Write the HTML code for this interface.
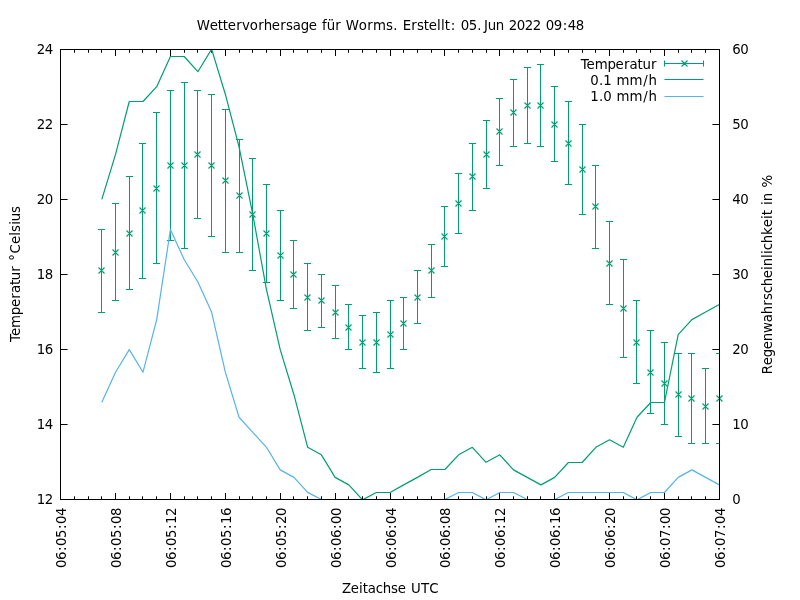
<!DOCTYPE html>
<html lang="de"><head><meta charset="utf-8"><title>Wettervorhersage für Worms</title>
<style>html,body{margin:0;padding:0;background:#fff;overflow:hidden}svg{display:block}</style></head><body>
<svg width="800" height="600" viewBox="0 0 800 600" font-family="DejaVu Sans, Liberation Sans, sans-serif" font-size="13.33" fill="#000">
<rect width="800" height="600" fill="#fff"/>
<path d="M60.50 500.00v-7.00M60.50 49.00v7.00M74.50 500.00v-3.75M74.50 49.00v3.75M88.50 500.00v-3.75M88.50 49.00v3.75M101.50 500.00v-3.75M101.50 49.00v3.75M115.50 500.00v-7.00M115.50 49.00v7.00M129.50 500.00v-3.75M129.50 49.00v3.75M142.50 500.00v-3.75M142.50 49.00v3.75M156.50 500.00v-3.75M156.50 49.00v3.75M170.50 500.00v-7.00M170.50 49.00v7.00M184.50 500.00v-3.75M184.50 49.00v3.75M197.50 500.00v-3.75M197.50 49.00v3.75M211.50 500.00v-3.75M211.50 49.00v3.75M225.50 500.00v-7.00M225.50 49.00v7.00M239.50 500.00v-3.75M239.50 49.00v3.75M252.50 500.00v-3.75M252.50 49.00v3.75M266.50 500.00v-3.75M266.50 49.00v3.75M280.50 500.00v-7.00M280.50 49.00v7.00M293.50 500.00v-3.75M293.50 49.00v3.75M307.50 500.00v-3.75M307.50 49.00v3.75M321.50 500.00v-3.75M321.50 49.00v3.75M335.50 500.00v-7.00M335.50 49.00v7.00M348.50 500.00v-3.75M348.50 49.00v3.75M362.50 500.00v-3.75M362.50 49.00v3.75M376.50 500.00v-3.75M376.50 49.00v3.75M390.50 500.00v-7.00M390.50 49.00v7.00M403.50 500.00v-3.75M403.50 49.00v3.75M417.50 500.00v-3.75M417.50 49.00v3.75M431.50 500.00v-3.75M431.50 49.00v3.75M444.50 500.00v-7.00M444.50 49.00v7.00M458.50 500.00v-3.75M458.50 49.00v3.75M472.50 500.00v-3.75M472.50 49.00v3.75M486.50 500.00v-3.75M486.50 49.00v3.75M499.50 500.00v-7.00M499.50 49.00v7.00M513.50 500.00v-3.75M513.50 49.00v3.75M527.50 500.00v-3.75M527.50 49.00v3.75M540.50 500.00v-3.75M540.50 49.00v3.75M554.50 500.00v-7.00M554.50 49.00v7.00M568.50 500.00v-3.75M568.50 49.00v3.75M582.50 500.00v-3.75M582.50 49.00v3.75M595.50 500.00v-3.75M595.50 49.00v3.75M609.50 500.00v-7.00M609.50 49.00v7.00M623.50 500.00v-3.75M623.50 49.00v3.75M636.50 500.00v-3.75M636.50 49.00v3.75M650.50 500.00v-3.75M650.50 49.00v3.75M664.50 500.00v-7.00M664.50 49.00v7.00M678.50 500.00v-3.75M678.50 49.00v3.75M691.50 500.00v-3.75M691.50 49.00v3.75M705.50 500.00v-3.75M705.50 49.00v3.75M719.50 500.00v-7.00M719.50 49.00v7.00M60.00 499.50h7.60M720.00 499.50h-7.60M60.00 424.50h7.60M720.00 424.50h-7.60M60.00 349.50h7.60M720.00 349.50h-7.60M60.00 274.50h7.60M720.00 274.50h-7.60M60.00 199.50h7.60M720.00 199.50h-7.60M60.00 124.50h7.60M720.00 124.50h-7.60M60.00 49.50h7.60M720.00 49.50h-7.60" stroke="#000" stroke-width="1" fill="none"/>
<text x="36.86 44.86" y="504.20">12</text>
<text x="732.26" y="504.20">0</text>
<text x="36.86 44.86" y="429.20">14</text>
<text x="732.26 740.26" y="429.20">10</text>
<text x="36.86 44.86" y="354.20">16</text>
<text x="732.26 740.26" y="354.20">20</text>
<text x="36.86 44.86" y="279.20">18</text>
<text x="732.26 740.26" y="279.20">30</text>
<text x="36.86 44.86" y="204.20">20</text>
<text x="732.26 740.26" y="204.20">40</text>
<text x="36.86 44.86" y="129.20">22</text>
<text x="732.26 740.26" y="129.20">50</text>
<text x="36.86 44.86" y="54.20">24</text>
<text x="732.26 740.26" y="54.20">60</text>
<text transform="translate(65.90 507.80) rotate(-90)" x="-60.24 -52.24 -43.25 -38.24 -30.24 -21.25 -16.24 -8.24" y="0">06:05:04</text>
<text transform="translate(120.90 507.80) rotate(-90)" x="-60.24 -52.24 -43.25 -38.24 -30.24 -21.25 -16.24 -8.24" y="0">06:05:08</text>
<text transform="translate(175.90 507.80) rotate(-90)" x="-60.24 -52.24 -43.25 -38.24 -30.24 -21.25 -16.24 -8.24" y="0">06:05:12</text>
<text transform="translate(230.90 507.80) rotate(-90)" x="-60.24 -52.24 -43.25 -38.24 -30.24 -21.25 -16.24 -8.24" y="0">06:05:16</text>
<text transform="translate(285.90 507.80) rotate(-90)" x="-60.24 -52.24 -43.25 -38.24 -30.24 -21.25 -16.24 -8.24" y="0">06:05:20</text>
<text transform="translate(340.90 507.80) rotate(-90)" x="-60.24 -52.24 -43.25 -38.24 -30.24 -21.25 -16.24 -8.24" y="0">06:06:00</text>
<text transform="translate(395.90 507.80) rotate(-90)" x="-60.24 -52.24 -43.25 -38.24 -30.24 -21.25 -16.24 -8.24" y="0">06:06:04</text>
<text transform="translate(449.90 507.80) rotate(-90)" x="-60.24 -52.24 -43.25 -38.24 -30.24 -21.25 -16.24 -8.24" y="0">06:06:08</text>
<text transform="translate(504.90 507.80) rotate(-90)" x="-60.24 -52.24 -43.25 -38.24 -30.24 -21.25 -16.24 -8.24" y="0">06:06:12</text>
<text transform="translate(559.90 507.80) rotate(-90)" x="-60.24 -52.24 -43.25 -38.24 -30.24 -21.25 -16.24 -8.24" y="0">06:06:16</text>
<text transform="translate(614.90 507.80) rotate(-90)" x="-60.24 -52.24 -43.25 -38.24 -30.24 -21.25 -16.24 -8.24" y="0">06:06:20</text>
<text transform="translate(669.90 507.80) rotate(-90)" x="-60.24 -52.24 -43.25 -38.24 -30.24 -21.25 -16.24 -8.24" y="0">06:07:00</text>
<text transform="translate(724.90 507.80) rotate(-90)" x="-60.24 -52.24 -43.25 -38.24 -30.24 -21.25 -16.24 -8.24" y="0">06:07:04</text>
<text x="196.86 209.85 217.84 222.84 227.85 236.21 242.01 249.87 258.21 263.73 271.85 280.21 285.98 292.87 300.72 308.85 317.33 322.10 326.73 335.21 341.33 345.86 358.87 367.21 372.96 385.98 393.33 398.33 402.74 411.21 416.98 423.84 428.85 437.10 441.10 444.84 450.70 456.33 460.71 468.71 477.33 483.98 487.73 495.73 504.33 508.71 516.71 524.71 532.71 541.33 545.71 553.71 562.70 567.71 575.71" y="29.70">Wettervorhersage für Worms. Erstellt: 05.Jun 2022 09:48</text>
<text x="341.88 350.85 359.10 362.84 367.87 375.79 382.73 390.98 397.85 406.33 411.07 420.88 429.30" y="592.90">Zeitachse UTC</text>
<text transform="translate(19.50 273.95) rotate(-90)" x="-68.07 -62.10 -53.99 -41.23 -33.10 -24.74 -19.08 -11.11 -6.22 2.26 8.38 13.17 20.35 29.90 38.15 42.03 49.15 52.78 61.03" y="0">Temperatur °Celsius</text>
<text transform="translate(772.00 274.10) rotate(-90)" x="-100.13 -91.10 -83.23 -75.10 -67.22 -58.95 -48.08 -40.22 -31.74 -25.97 -19.16 -12.22 -4.10 4.15 7.78 16.15 20.15 23.84 30.78 39.14 46.90 55.15 58.89 64.38 69.15 72.78 81.38 86.67" y="0">Regenwahrscheinlichkeit in %</text>
<text x="580.63 586.60 594.71 607.47 615.60 623.96 629.62 637.59 642.48 650.96" y="68.60">Temperatur</text>
<text x="590.36 598.98 603.36 611.98 616.61 629.61 643.35 648.38" y="84.60">0.1 mm/h</text>
<text x="590.36 598.98 603.36 611.98 616.61 629.61 643.35 648.38" y="100.80">1.0 mm/h</text>
<clipPath id="c"><rect x="60.00" y="49.00" width="660.00" height="451.00"/></clipPath>
<g clip-path="url(#c)" fill="none" stroke-width="1" stroke-linejoin="round" stroke-linecap="butt">
<path d="M101.50 229.50V312.50M97.90 229.50h7.20M97.90 312.50h7.20M115.50 203.50V300.50M111.90 203.50h7.20M111.90 300.50h7.20M129.50 176.50V289.50M125.90 176.50h7.20M125.90 289.50h7.20M142.50 143.50V278.50M138.90 143.50h7.20M138.90 278.50h7.20M156.50 112.50V263.50M152.90 112.50h7.20M152.90 263.50h7.20M170.50 90.50V240.50M166.90 90.50h7.20M166.90 240.50h7.20M184.50 82.50V248.50M180.90 82.50h7.20M180.90 248.50h7.20M197.50 90.50V218.50M193.90 90.50h7.20M193.90 218.50h7.20M211.50 94.50V236.50M207.90 94.50h7.20M207.90 236.50h7.20M225.50 109.50V252.50M221.90 109.50h7.20M221.90 252.50h7.20M239.50 139.50V252.50M235.90 139.50h7.20M235.90 252.50h7.20M252.50 158.50V270.50M248.90 158.50h7.20M248.90 270.50h7.20M266.50 184.50V282.50M262.90 184.50h7.20M262.90 282.50h7.20M280.50 210.50V300.50M276.90 210.50h7.20M276.90 300.50h7.20M293.50 240.50V308.50M289.90 240.50h7.20M289.90 308.50h7.20M307.50 263.50V330.50M303.90 263.50h7.20M303.90 330.50h7.20M321.50 274.50V327.50M317.90 274.50h7.20M317.90 327.50h7.20M335.50 285.50V338.50M331.90 285.50h7.20M331.90 338.50h7.20M348.50 304.50V349.50M344.90 304.50h7.20M344.90 349.50h7.20M362.50 315.50V368.50M358.90 315.50h7.20M358.90 368.50h7.20M376.50 312.50V372.50M372.90 312.50h7.20M372.90 372.50h7.20M390.50 300.50V368.50M386.90 300.50h7.20M386.90 368.50h7.20M403.50 297.50V349.50M399.90 297.50h7.20M399.90 349.50h7.20M417.50 270.50V323.50M413.90 270.50h7.20M413.90 323.50h7.20M431.50 244.50V297.50M427.90 244.50h7.20M427.90 297.50h7.20M444.50 206.50V266.50M440.90 206.50h7.20M440.90 266.50h7.20M458.50 173.50V233.50M454.90 173.50h7.20M454.90 233.50h7.20M472.50 143.50V210.50M468.90 143.50h7.20M468.90 210.50h7.20M486.50 120.50V188.50M482.90 120.50h7.20M482.90 188.50h7.20M499.50 98.50V165.50M495.90 98.50h7.20M495.90 165.50h7.20M513.50 79.50V146.50M509.90 79.50h7.20M509.90 146.50h7.20M527.50 67.50V143.50M523.90 67.50h7.20M523.90 143.50h7.20M540.50 64.50V146.50M536.90 64.50h7.20M536.90 146.50h7.20M554.50 86.50V161.50M550.90 86.50h7.20M550.90 161.50h7.20M568.50 101.50V184.50M564.90 101.50h7.20M564.90 184.50h7.20M582.50 124.50V214.50M578.90 124.50h7.20M578.90 214.50h7.20M595.50 165.50V248.50M591.90 165.50h7.20M591.90 248.50h7.20M609.50 221.50V304.50M605.90 221.50h7.20M605.90 304.50h7.20M623.50 259.50V357.50M619.90 259.50h7.20M619.90 357.50h7.20M636.50 300.50V383.50M632.90 300.50h7.20M632.90 383.50h7.20M650.50 330.50V413.50M646.90 330.50h7.20M646.90 413.50h7.20M664.50 342.50V424.50M660.90 342.50h7.20M660.90 424.50h7.20M678.50 353.50V436.50M674.90 353.50h7.20M674.90 436.50h7.20M691.50 353.50V443.50M687.90 353.50h7.20M687.90 443.50h7.20M705.50 368.50V443.50M701.90 368.50h7.20M701.90 443.50h7.20M719.50 353.50V443.50M715.90 353.50h7.20M715.90 443.50h7.20" stroke="#009E73"/>
<polyline stroke-width="1.2" stroke="#009E73" points="101.82,199.40 115.54,154.32 129.26,101.50 142.99,101.50 156.71,86.71 170.43,56.50 184.16,56.50 197.88,71.69 211.60,49.15 225.33,94.22 239.05,146.81 252.77,214.42 266.49,289.55 280.22,349.65 293.94,394.72 307.66,447.31 321.39,454.82 335.11,477.36 348.83,484.88 362.55,499.90 376.28,492.50 390.00,492.50 403.72,484.88 417.45,477.36 431.17,469.50 444.89,469.50 458.61,454.82 472.34,447.31 486.06,462.34 499.78,454.82 513.51,469.85 527.23,477.36 540.95,484.88 554.68,477.36 568.40,462.50 582.12,462.50 595.84,447.31 609.57,439.80 623.29,447.31 637.01,417.26 650.74,402.50 664.46,402.50 678.18,334.62 691.90,319.60 705.63,312.09 719.35,304.57"/>
<polyline stroke-width="1.2" stroke="#56B4E9" points="101.82,402.24 115.54,372.19 129.26,349.65 142.99,372.19 156.71,319.60 170.43,229.45 184.16,259.50 197.88,282.04 211.60,312.09 225.33,372.19 239.05,417.26 252.77,432.29 266.49,447.31 280.22,469.85 293.94,477.36 307.66,492.39 321.39,499.50 335.11,499.50 348.83,499.50 362.55,499.50 376.28,499.50 390.00,499.50 403.72,499.50 417.45,499.50 431.17,499.50 444.89,499.50 458.61,492.50 472.34,492.50 486.06,499.90 499.78,492.50 513.51,492.50 527.23,499.50 540.95,499.50 554.68,499.50 568.40,492.50 582.12,492.50 595.84,492.50 609.57,492.50 623.29,492.50 637.01,499.90 650.74,492.50 664.46,492.50 678.18,477.36 691.90,469.85 705.63,477.36 719.35,484.88"/>
</g>
<g fill="none" stroke-width="1">
<path d="M681.50 60.50l6.00 6.00M681.50 66.50l6.00 -6.00M98.50 267.50l6.00 6.00M98.50 273.50l6.00 -6.00M112.50 249.50l6.00 6.00M112.50 255.50l6.00 -6.00M126.50 230.50l6.00 6.00M126.50 236.50l6.00 -6.00M139.50 207.50l6.00 6.00M139.50 213.50l6.00 -6.00M153.50 185.50l6.00 6.00M153.50 191.50l6.00 -6.00M167.50 162.50l6.00 6.00M167.50 168.50l6.00 -6.00M181.50 162.50l6.00 6.00M181.50 168.50l6.00 -6.00M194.50 151.50l6.00 6.00M194.50 157.50l6.00 -6.00M208.50 162.50l6.00 6.00M208.50 168.50l6.00 -6.00M222.50 177.50l6.00 6.00M222.50 183.50l6.00 -6.00M236.50 192.50l6.00 6.00M236.50 198.50l6.00 -6.00M249.50 211.50l6.00 6.00M249.50 217.50l6.00 -6.00M263.50 230.50l6.00 6.00M263.50 236.50l6.00 -6.00M277.50 252.50l6.00 6.00M277.50 258.50l6.00 -6.00M290.50 271.50l6.00 6.00M290.50 277.50l6.00 -6.00M304.50 294.50l6.00 6.00M304.50 300.50l6.00 -6.00M318.50 297.50l6.00 6.00M318.50 303.50l6.00 -6.00M332.50 309.50l6.00 6.00M332.50 315.50l6.00 -6.00M345.50 324.50l6.00 6.00M345.50 330.50l6.00 -6.00M359.50 339.50l6.00 6.00M359.50 345.50l6.00 -6.00M373.50 339.50l6.00 6.00M373.50 345.50l6.00 -6.00M387.50 331.50l6.00 6.00M387.50 337.50l6.00 -6.00M400.50 320.50l6.00 6.00M400.50 326.50l6.00 -6.00M414.50 294.50l6.00 6.00M414.50 300.50l6.00 -6.00M428.50 267.50l6.00 6.00M428.50 273.50l6.00 -6.00M441.50 233.50l6.00 6.00M441.50 239.50l6.00 -6.00M455.50 200.50l6.00 6.00M455.50 206.50l6.00 -6.00M469.50 173.50l6.00 6.00M469.50 179.50l6.00 -6.00M483.50 151.50l6.00 6.00M483.50 157.50l6.00 -6.00M496.50 128.50l6.00 6.00M496.50 134.50l6.00 -6.00M510.50 109.50l6.00 6.00M510.50 115.50l6.00 -6.00M524.50 102.50l6.00 6.00M524.50 108.50l6.00 -6.00M537.50 102.50l6.00 6.00M537.50 108.50l6.00 -6.00M551.50 121.50l6.00 6.00M551.50 127.50l6.00 -6.00M565.50 140.50l6.00 6.00M565.50 146.50l6.00 -6.00M579.50 166.50l6.00 6.00M579.50 172.50l6.00 -6.00M592.50 203.50l6.00 6.00M592.50 209.50l6.00 -6.00M606.50 260.50l6.00 6.00M606.50 266.50l6.00 -6.00M620.50 305.50l6.00 6.00M620.50 311.50l6.00 -6.00M633.50 339.50l6.00 6.00M633.50 345.50l6.00 -6.00M647.50 369.50l6.00 6.00M647.50 375.50l6.00 -6.00M661.50 380.50l6.00 6.00M661.50 386.50l6.00 -6.00M675.50 391.50l6.00 6.00M675.50 397.50l6.00 -6.00M688.50 395.50l6.00 6.00M688.50 401.50l6.00 -6.00M702.50 403.50l6.00 6.00M702.50 409.50l6.00 -6.00M716.50 395.50l6.00 6.00M716.50 401.50l6.00 -6.00" stroke="#009E73" stroke-width="1.15"/>
<path d="M664.5 63.5H703.5M664.5 60.5v6M703.5 60.5v6" stroke="#009E73"/>
<path d="M664.5 79.5H703.5" stroke="#009E73"/>
<path d="M664.5 96.5H703.5" stroke="#56B4E9"/>
</g>
<rect x="60.50" y="49.50" width="659.00" height="450.00" fill="none" stroke="#000" stroke-width="1"/>
</svg></body></html>
